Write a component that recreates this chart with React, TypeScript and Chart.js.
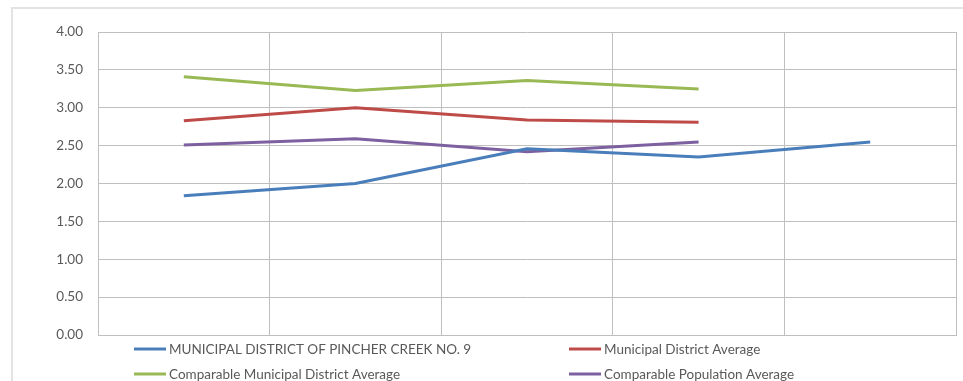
import React, { useEffect, useRef } from 'react';
import { Chart, registerables } from 'chart.js';

Chart.register(...registerables);

// Five periods on the category axis (unlabelled on the chart)
const categories = ['', '', '', '', ''];

const pincherCreek = [1.84, 2.0, 2.46, 2.35, 2.55];
const mdAverage = [2.83, 3.0, 2.84, 2.81, null];
const comparableMdAverage = [3.41, 3.23, 3.36, 3.25, null];
const comparablePopAverage = [2.51, 2.59, 2.42, 2.55, null];

const seriesLabels = [
  'MUNICIPAL DISTRICT OF PINCHER CREEK NO. 9',
  'Municipal District Average',
  'Comparable Municipal District Average',
  'Comparable Population Average',
];

const yTicks = [0, 0.5, 1, 1.5, 2, 2.5, 3, 3.5, 4];

const COLORS = ['#4A7EBB', '#BE4B48', '#98B954', '#7D60A0'];
const FONT = 'Lato, "Open Sans", sans-serif';
const TEXT = '#595959';
const GRID = '#BFBFBF';

// Two-column legend drawn underneath the plot area
const gridLegend = {
  id: 'gridLegend',
  afterDraw(chart: any) {
    const { ctx, chartArea } = chart;
    const colX = [chartArea.left + 36, chartArea.left + 471];
    const rowY = [chartArea.bottom + 14, chartArea.bottom + 39];
    ctx.save();
    ctx.font = `13.5px ${FONT}`;
    ctx.textBaseline = 'middle';
    chart.data.datasets.forEach((ds: any, i: number) => {
      const x = colX[i % 2];
      const y = rowY[Math.floor(i / 2)];
      ctx.strokeStyle = ds.borderColor;
      ctx.lineWidth = 3;
      ctx.beginPath();
      ctx.moveTo(x, y);
      ctx.lineTo(x + 32, y);
      ctx.stroke();
      ctx.fillStyle = TEXT;
      ctx.fillText(ds.label, x + 35, y + 1);
    });
    ctx.restore();
  },
};

export default function App() {
  const canvasRef = useRef<HTMLCanvasElement | null>(null);

  useEffect(() => {
    if (!canvasRef.current) return;
    const series = [pincherCreek, mdAverage, comparableMdAverage, comparablePopAverage];
    const chart = new Chart(canvasRef.current, {
      type: 'line',
      data: {
        labels: categories,
        datasets: series.map((data, i) => ({
          label: seriesLabels[i],
          data,
          borderColor: COLORS[i],
          backgroundColor: COLORS[i],
          borderWidth: 3,
          pointRadius: 0,
          tension: 0,
          spanGaps: false,
        })),
      },
      options: {
        animation: false,
        responsive: false,
        layout: { padding: { top: 23, right: 7, bottom: 46, left: 0 } },
        plugins: {
          legend: { display: false },
          tooltip: { enabled: false },
        },
        scales: {
          x: {
            type: 'category',
            offset: true,
            grid: { offset: true, color: GRID, lineWidth: 1, drawTicks: false },
            border: { color: GRID },
            ticks: { display: false },
          },
          y: {
            min: 0,
            max: 4,
            afterBuildTicks: (scale: any) => {
              scale.ticks = yTicks.map((v) => ({ value: v }));
            },
            afterFit: (scale: any) => {
              scale.width = 85;
            },
            grid: { color: GRID, lineWidth: 1, drawTicks: false },
            border: { color: GRID },
            ticks: {
              padding: 15,
              color: TEXT,
              font: { family: FONT, size: 13.5 },
              callback: (v: any) => Number(v).toFixed(2),
            },
          },
        },
      },
      plugins: [gridLegend],
    });
    return () => chart.destroy();
  }, []);

  return (
    <div
      style={{
        position: 'absolute',
        left: 11,
        top: 7,
        width: 952,
        height: 374,
        borderTop: '2px solid #E3E3E3',
        borderLeft: '2px solid #E3E3E3',
        background: '#fff',
        overflow: 'hidden',
      }}
    >
      <canvas ref={canvasRef} width={950} height={372} style={{ display: 'block' }} />
    </div>
  );
}
